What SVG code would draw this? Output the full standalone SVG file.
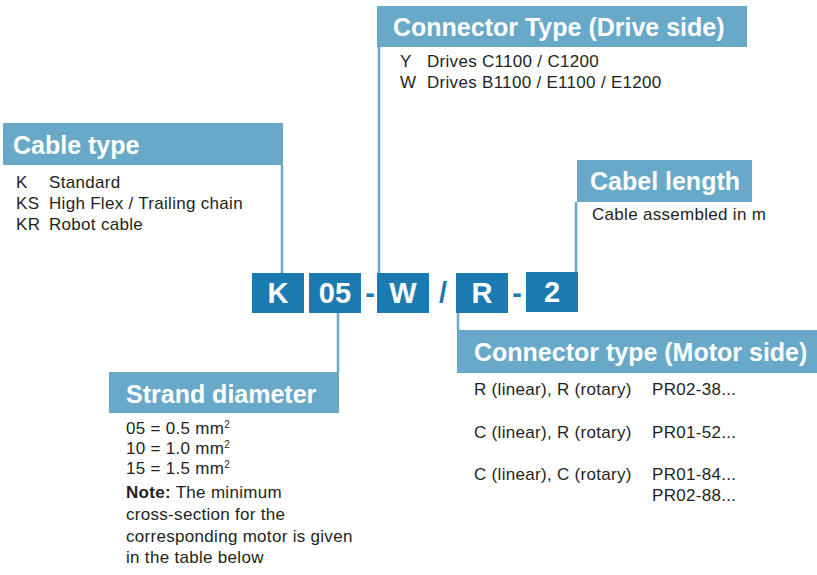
<svg xmlns="http://www.w3.org/2000/svg" width="817" height="575" viewBox="0 0 817 575">
<style>
.hdr{fill:#68a9c9}
.ht{font-family:"Liberation Sans",Arial,sans-serif;font-weight:bold;font-size:25px;fill:#ffffff}
.bt{font-family:"Liberation Sans",Arial,sans-serif;font-size:17px;letter-spacing:0.3px;fill:#231f20}
.box{fill:#1b7bb0}
.ct{font-family:"Liberation Sans",Arial,sans-serif;font-weight:bold;font-size:29px;fill:#ffffff;text-anchor:middle}
.sep{font-family:"Liberation Sans",Arial,sans-serif;font-weight:bold;font-size:29px;fill:#1b7bb0;text-anchor:middle}
.ln{stroke:#68a9c9;stroke-width:2.5;fill:none}
.sup{font-size:10px}
</style>
<rect width="817" height="575" fill="#ffffff"/>
<g id="connectors">
<line class="ln" x1="282" y1="165" x2="282" y2="273"/>
<line class="ln" x1="379" y1="47" x2="379" y2="273"/>
<line class="ln" x1="338" y1="313" x2="338" y2="372"/>
<line class="ln" x1="458" y1="313" x2="458" y2="330"/>
<line class="ln" x1="576" y1="202" x2="576" y2="272"/>
</g>
<g id="cable-type">
<rect class="hdr" x="3" y="123" width="280" height="42"/>
<text class="ht" x="13" y="154">Cable type</text>
<text class="bt" x="16" y="188">K</text><text class="bt" x="49" y="188">Standard</text>
<text class="bt" x="16" y="209">KS</text><text class="bt" x="49" y="209">High Flex / Trailing chain</text>
<text class="bt" x="16" y="230">KR</text><text class="bt" x="49" y="230">Robot cable</text>
</g>
<g id="drive-side">
<rect class="hdr" x="377" y="6" width="370" height="41"/>
<text class="ht" x="393" y="36">Connector Type (Drive side)</text>
<text class="bt" x="400" y="67">Y</text><text class="bt" x="427" y="67">Drives C1100 / C1200</text>
<text class="bt" x="400" y="88">W</text><text class="bt" x="427" y="88">Drives B1100 / E1100 / E1200</text>
</g>
<g id="cable-length">
<rect class="hdr" x="577" y="160" width="175" height="42"/>
<text class="ht" x="590" y="190">Cabel length</text>
<text class="bt" x="592" y="220">Cable assembled in m</text>
</g>
<g id="strand-diameter">
<rect class="hdr" x="109" y="372" width="230" height="41"/>
<text class="ht" x="126" y="403">Strand diameter</text>
<text class="bt" x="126" y="434">05 = 0.5 mm<tspan class="sup" dy="-6">2</tspan></text>
<text class="bt" x="126" y="454">10 = 1.0 mm<tspan class="sup" dy="-6">2</tspan></text>
<text class="bt" x="126" y="474">15 = 1.5 mm<tspan class="sup" dy="-6">2</tspan></text>
<text class="bt" x="126" y="498"><tspan font-weight="bold">Note:</tspan> The minimum</text>
<text class="bt" x="126" y="520">cross-section for the</text>
<text class="bt" x="126" y="542">corresponding motor is given</text>
<text class="bt" x="126" y="563">in the table below</text>
</g>
<g id="motor-side">
<rect class="hdr" x="457" y="330" width="360" height="43"/>
<text class="ht" x="474" y="361">Connector type (Motor side)</text>
<text class="bt" x="474" y="395">R (linear), R (rotary)</text><text class="bt" x="652" y="395">PR02-38...</text>
<text class="bt" x="474" y="438">C (linear), R (rotary)</text><text class="bt" x="652" y="438">PR01-52...</text>
<text class="bt" x="474" y="480">C (linear), C (rotary)</text><text class="bt" x="652" y="480">PR01-84...</text>
<text class="bt" x="652" y="501">PR02-88...</text>
</g>
<g id="code">
<rect class="box" x="252" y="273" width="52" height="40"/><text class="ct" x="278" y="303">K</text>
<rect class="box" x="309" y="273" width="52" height="40"/><text class="ct" x="335" y="303">05</text>
<text class="sep" x="370" y="303">-</text>
<rect class="box" x="377" y="273" width="52" height="40"/><text class="ct" x="403" y="303">W</text>
<text class="sep" x="443" y="303">/</text>
<rect class="box" x="456" y="273" width="52" height="40"/><text class="ct" x="482" y="303">R</text>
<text class="sep" x="517" y="303">-</text>
<rect class="box" x="526" y="272" width="52" height="40"/><text class="ct" x="552" y="302">2</text>
</g>
</svg>
